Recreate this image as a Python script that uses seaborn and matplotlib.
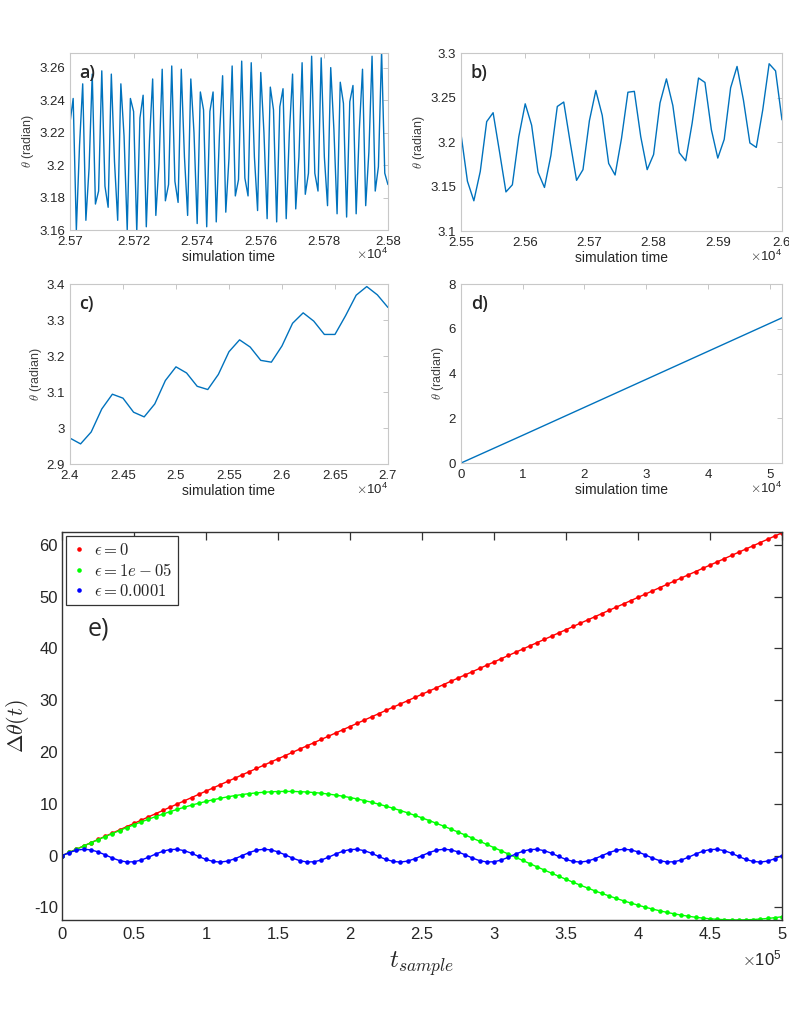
import numpy as np
import matplotlib
matplotlib.use("Agg")
import matplotlib.pyplot as plt
import seaborn as sns
from matplotlib.lines import Line2D
from matplotlib.ticker import FuncFormatter

# ---- panel a: theta, 25700..25800 (one sample per time unit)
t_a = np.arange(25700, 25801, 1)
theta_a = [3.226, 3.241, 3.160, 3.212, 3.250, 3.166, 3.198, 3.256, 3.176, 3.184,
           3.258, 3.187, 3.174, 3.256, 3.202, 3.166, 3.250, 3.218, 3.160, 3.241,
           3.233, 3.159, 3.229, 3.243, 3.162, 3.215, 3.253, 3.169, 3.201, 3.259,
           3.178, 3.188, 3.261, 3.190, 3.177, 3.259, 3.205, 3.169, 3.253, 3.220,
           3.164, 3.245, 3.234, 3.162, 3.233, 3.245, 3.165, 3.218, 3.255, 3.171,
           3.204, 3.261, 3.181, 3.191, 3.264, 3.192, 3.181, 3.263, 3.205, 3.172,
           3.257, 3.220, 3.167, 3.248, 3.234, 3.165, 3.236, 3.247, 3.167, 3.220,
           3.256, 3.173, 3.205, 3.263, 3.182, 3.195, 3.267, 3.195, 3.184, 3.266,
           3.205, 3.175, 3.260, 3.222, 3.170, 3.251, 3.238, 3.168, 3.239, 3.249,
           3.170, 3.222, 3.259, 3.175, 3.208, 3.267, 3.184, 3.199, 3.270, 3.195,
           3.188]

# ---- panel b: theta, 25500..26000 (step 10)
t_b = np.arange(25500, 26001, 10)
theta_b = [3.209, 3.156, 3.134, 3.167, 3.223, 3.233, 3.189, 3.144, 3.152, 3.206,
           3.243, 3.219, 3.166, 3.149, 3.185, 3.240, 3.245, 3.200, 3.157, 3.169,
           3.224, 3.258, 3.230, 3.176, 3.163, 3.204, 3.256, 3.257, 3.206, 3.169,
           3.186, 3.244, 3.271, 3.241, 3.188, 3.179, 3.221, 3.272, 3.267, 3.214,
           3.182, 3.203, 3.261, 3.285, 3.247, 3.199, 3.194, 3.236, 3.288, 3.280,
           3.225]

# ---- panel c: theta, 24000..27000 (step 100)
t_c = np.arange(24000, 27001, 100)
theta_c = [2.972, 2.956, 2.989, 3.053, 3.094, 3.083, 3.044, 3.031, 3.067, 3.132,
           3.170, 3.153, 3.116, 3.107, 3.149, 3.212, 3.245, 3.225, 3.188, 3.183,
           3.228, 3.291, 3.320, 3.297, 3.260, 3.260, 3.312, 3.369, 3.393, 3.370,
           3.335]

# ---- panel d: theta over the whole run
t_d = [0, 10000, 20000, 30000, 40000, 52000]
theta_d = [0.0, 1.24, 2.49, 3.74, 4.99, 6.49]

# ---- panel e: delta theta vs t_sample (step 5000)
t_e = np.arange(0, 500001, 5000)
dtheta_eps0 = [0.00, 0.62, 1.25, 1.87, 2.49, 3.12, 3.74, 4.36, 4.98, 5.61,
               6.23, 6.85, 7.48, 8.10, 8.72, 9.35, 9.97, 10.59, 11.21, 11.84,
               12.46, 13.08, 13.71, 14.33, 14.95, 15.58, 16.20, 16.82, 17.44, 18.07,
               18.69, 19.31, 19.94, 20.56, 21.18, 21.81, 22.43, 23.05, 23.67, 24.30,
               24.92, 25.54, 26.17, 26.79, 27.41, 28.04, 28.66, 29.28, 29.90, 30.53,
               31.15, 31.77, 32.40, 33.02, 33.64, 34.27, 34.89, 35.51, 36.13, 36.76,
               37.38, 38.00, 38.63, 39.25, 39.87, 40.50, 41.12, 41.74, 42.36, 42.99,
               43.61, 44.23, 44.86, 45.48, 46.10, 46.73, 47.35, 47.97, 48.59, 49.22,
               49.84, 50.46, 51.09, 51.71, 52.33, 52.96, 53.58, 54.20, 54.82, 55.45,
               56.07, 56.69, 57.32, 57.94, 58.56, 59.19, 59.81, 60.43, 61.05, 61.68,
               62.30]
dtheta_eps1e5 = [0.00, 0.62, 1.24, 1.86, 2.48, 3.08, 3.68, 4.27, 4.85, 5.42,
                 5.97, 6.51, 7.03, 7.54, 8.02, 8.49, 8.93, 9.35, 9.75, 10.12,
                 10.47, 10.79, 11.08, 11.35, 11.59, 11.79, 11.97, 12.12, 12.23, 12.32,
                 12.38, 12.40, 12.39, 12.35, 12.28, 12.18, 12.05, 11.89, 11.69, 11.47,
                 11.22, 10.94, 10.63, 10.30, 9.94, 9.55, 9.14, 8.71, 8.26, 7.78,
                 7.29, 6.78, 6.24, 5.70, 5.14, 4.56, 3.98, 3.38, 2.78, 2.17,
                 1.55, 0.93, 0.31, -0.31, -0.93, -1.55, -2.17, -2.78, -3.38, -3.98,
                 -4.56, -5.14, -5.70, -6.24, -6.78, -7.29, -7.78, -8.26, -8.71, -9.14,
                 -9.55, -9.94, -10.30, -10.63, -10.94, -11.22, -11.47, -11.69, -11.89, -12.05,
                 -12.18, -12.28, -12.35, -12.39, -12.40, -12.38, -12.32, -12.23, -12.12, -11.97,
                 -11.79]
dtheta_eps1e4 = [0.00, 0.60, 1.05, 1.24, 1.12, 0.73, 0.16, -0.46, -0.96, -1.22,
                 -1.18, -0.85, -0.31, 0.31, 0.85, 1.18, 1.22, 0.96, 0.46, -0.16,
                 -0.73, -1.12, -1.24, -1.05, -0.60, 0.00, 0.60, 1.05, 1.24, 1.12,
                 0.73, 0.16, -0.46, -0.96, -1.22, -1.18, -0.85, -0.31, 0.31, 0.85,
                 1.18, 1.22, 0.96, 0.46, -0.16, -0.73, -1.12, -1.24, -1.05, -0.60,
                 0.00, 0.60, 1.05, 1.24, 1.12, 0.73, 0.16, -0.46, -0.96, -1.22,
                 -1.18, -0.85, -0.31, 0.31, 0.85, 1.18, 1.22, 0.96, 0.46, -0.16,
                 -0.73, -1.12, -1.24, -1.05, -0.60, 0.00, 0.60, 1.05, 1.24, 1.12,
                 0.73, 0.16, -0.46, -0.96, -1.22, -1.18, -0.85, -0.31, 0.31, 0.85,
                 1.18, 1.22, 0.96, 0.46, -0.16, -0.73, -1.12, -1.24, -1.05, -0.60,
                 0.00]
eps_labels = [r"$\epsilon = 0$", r"$\epsilon = 1e-05$", r"$\epsilon = 0.0001$"]
eps_colors = ["#ff0000", "#00ff00", "#0000ff"]

sns.set_style("white")
plt.rcParams["font.family"] = ["Liberation Sans", "DejaVu Sans"]
plt.rcParams["mathtext.fontset"] = "cm"

fig = plt.figure(figsize=(7.89, 10.21), dpi=100)

small = [
    ("a)", t_a, theta_a, [0.0887, 0.7747, 0.4030, 0.1734], (25700, 25800), np.arange(25700, 25801, 20),
     (3.16, 3.269), [3.16, 3.18, 3.20, 3.22, 3.24, 3.26]),
    ("b)", t_b, theta_b, [0.5843, 0.7737, 0.4068, 0.1743], (25500, 26000), np.arange(25500, 26001, 100),
     (3.1, 3.3), [3.1, 3.15, 3.2, 3.25, 3.3]),
    ("c)", t_c, theta_c, [0.0887, 0.5455, 0.4030, 0.1763], (24000, 27000), np.arange(24000, 27001, 500),
     (2.9, 3.4), [2.9, 3.0, 3.1, 3.2, 3.3, 3.4]),
    ("d)", t_d, theta_d, [0.5843, 0.5465, 0.4068, 0.1753], (0, 52000), [0, 10000, 20000, 30000, 40000, 50000],
     (0, 8), [0, 2, 4, 6, 8]),
]

for tag, t, th, rect, xl, xt, yl, yt in small:
    ax = fig.add_axes(rect)
    sns.lineplot(x=t, y=th, ax=ax, color="#0072BD", lw=1.0)
    ax.set_xlim(*xl)
    ax.set_ylim(*yl)
    ax.set_xticks(xt)
    ax.set_yticks(yt)
    ax.xaxis.set_major_formatter(FuncFormatter(lambda v, p: f"{v / 1e4:g}"))
    ax.yaxis.set_major_formatter(FuncFormatter(lambda v, p: f"{v:g}"))
    ax.tick_params(direction="in", top=True, right=True, length=3.5, width=0.6,
                   color="#bdbdbd", labelcolor="#262626", labelsize=9.5)
    ax.tick_params(axis="x", pad=4.5)
    ax.tick_params(axis="y", pad=3.5)
    for s in ax.spines.values():
        s.set_color("#c8c8c8")
        s.set_linewidth(0.8)
    ax.set_xlabel("simulation time", fontsize=10, color="#262626", labelpad=1.5)
    ax.set_ylabel(r"$\theta$ (radian)", fontsize=9, color="#404040", labelpad=2)
    ax.text(1.0, -0.14, r"$\times\mathregular{10^{4}}$", transform=ax.transAxes,
            ha="right", va="center", fontsize=9.5, color="#262626")
    ax.text(0.03, 0.94, tag, transform=ax.transAxes, ha="left", va="top",
            fontsize=13, fontweight="semibold", family=["Open Sans", "DejaVu Sans"])

# ---- panel e
ax = fig.add_axes([0.0786, 0.0989, 0.9125, 0.3800])
for vals, c in zip([dtheta_eps0, dtheta_eps1e5, dtheta_eps1e4], eps_colors):
    sns.lineplot(x=t_e, y=vals, ax=ax, color=c, lw=1.0, marker="o",
                 markersize=3.3, markeredgewidth=0)
ax.set_xlim(0, 500000)
ax.set_ylim(-12.42, 62.45)
ax.set_xticks(np.arange(0, 500001, 50000))
ax.set_yticks([-10, 0, 10, 20, 30, 40, 50, 60])
ax.xaxis.set_major_formatter(FuncFormatter(lambda v, p: f"{v / 1e5:g}"))
ax.yaxis.set_major_formatter(FuncFormatter(lambda v, p: f"{v:g}"))
ax.tick_params(direction="in", top=True, right=True, length=6, width=0.9,
               color="#333333", labelcolor="#262626", labelsize=12)
ax.tick_params(axis="x", pad=5)
ax.tick_params(axis="y", pad=3)
for s in ax.spines.values():
    s.set_color("#333333")
    s.set_linewidth(1.0)
ax.set_xlabel(r"$t_{sample}$", fontsize=18, color="#262626", labelpad=5)
ax.set_ylabel(r"$\Delta\theta(t)$", fontsize=16, color="#262626", labelpad=2)
ax.text(1.0, -0.1, r"$\times\mathregular{10^{5}}$", transform=ax.transAxes,
        ha="right", va="center", fontsize=12, color="#262626")
ax.text(0.035, 0.75, "e)", transform=ax.transAxes, ha="left", va="center",
        fontsize=18, family=["Open Sans", "DejaVu Sans"])
handles = [Line2D([], [], ls="none", marker="o", markersize=3.3, markeredgewidth=0, color=c)
           for c in eps_colors]
leg = ax.legend(handles, eps_labels, loc="upper left", bbox_to_anchor=(0.006, 0.99),
                borderaxespad=0, fancybox=False, framealpha=1, edgecolor="#333333",
                fontsize=12, handlelength=0.8, handletextpad=0.5, borderpad=0.35,
                labelspacing=0.25)
leg.get_frame().set_linewidth(0.9)

fig.savefig("out.png", dpi=100)
